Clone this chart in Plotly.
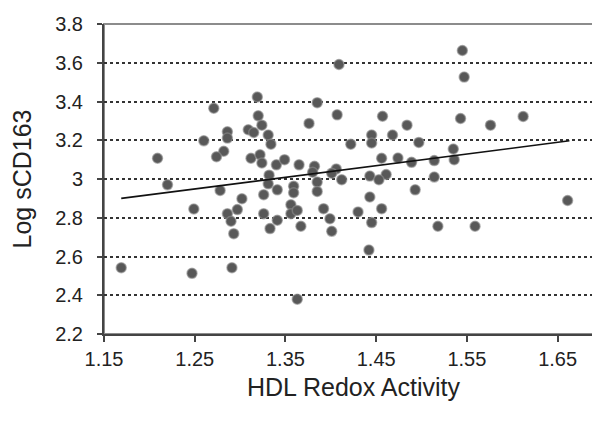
import plotly.graph_objects as go

# HDL Redox Activity (x) vs Log sCD163 (y)
hdl_redox = [
    1.319, 1.271, 1.320, 1.324, 1.309, 1.315, 1.286, 1.286, 1.260, 1.331,
    1.334, 1.282, 1.274, 1.209, 1.312, 1.322, 1.324, 1.332, 1.409, 1.385,
    1.376, 1.407, 1.457, 1.484, 1.445, 1.445, 1.468, 1.422, 1.497, 1.340,
    1.349, 1.365, 1.382, 1.380, 1.406, 1.401, 1.456, 1.474, 1.489, 1.443,
    1.461, 1.545, 1.547, 1.543, 1.576, 1.612, 1.535, 1.536, 1.514, 1.514,
    1.220, 1.278, 1.302, 1.326, 1.249, 1.286, 1.297, 1.290, 1.293, 1.326,
    1.333, 1.169, 1.247, 1.291, 1.412, 1.453, 1.331, 1.341, 1.359, 1.359,
    1.385, 1.385, 1.493, 1.443, 1.341, 1.356, 1.356, 1.363, 1.367, 1.392,
    1.399, 1.401, 1.430, 1.445, 1.456, 1.442, 1.363, 1.518, 1.559, 1.661,
]
log_scd163 = [
    3.423, 3.365, 3.326, 3.278, 3.254, 3.240, 3.244, 3.211, 3.197, 3.227,
    3.180, 3.143, 3.115, 3.107, 3.107, 3.125, 3.083, 3.020, 3.591, 3.394,
    3.287, 3.331, 3.324, 3.278, 3.227, 3.186, 3.227, 3.180, 3.189, 3.073,
    3.100, 3.073, 3.066, 3.035, 3.052, 3.030, 3.107, 3.108, 3.086, 3.015,
    3.023, 3.663, 3.526, 3.312, 3.278, 3.323, 3.155, 3.100, 3.095, 3.010,
    2.970, 2.941, 2.898, 2.919, 2.845, 2.821, 2.842, 2.782, 2.718, 2.821,
    2.744, 2.542, 2.513, 2.542, 2.996, 2.996, 2.975, 2.944, 2.963, 2.929,
    2.984, 2.936, 2.944, 2.907, 2.787, 2.867, 2.821, 2.838, 2.756, 2.847,
    2.795, 2.730, 2.830, 2.775, 2.847, 2.633, 2.380, 2.756, 2.756, 2.889,
]

# Linear trend line endpoints
trend_x = [1.169, 1.663]
trend_y = [2.900, 3.197]

x_ticks = [1.15, 1.25, 1.35, 1.45, 1.55, 1.65]
x_tick_labels = ["1.15", "1.25", "1.35", "1.45", "1.55", "1.65"]
y_ticks = [2.2, 2.4, 2.6, 2.8, 3.0, 3.2, 3.4, 3.6, 3.8]
y_tick_labels = ["2.2", "2.4", "2.6", "2.8", "3", "3.2", "3.4", "3.6", "3.8"]

FONT = "Liberation Sans, Arial, sans-serif"

fig = go.Figure()
fig.add_trace(go.Scatter(
    x=hdl_redox, y=log_scd163, mode="markers",
    marker=dict(size=10, color="#585858",
                line=dict(color="rgba(140,140,140,0.6)", width=1.5)),
    showlegend=False, hoverinfo="skip",
))
fig.add_trace(go.Scatter(
    x=trend_x, y=trend_y, mode="lines",
    line=dict(color="#111111", width=1.6),
    showlegend=False, hoverinfo="skip",
))

fig.add_shape(type="rect", xref="paper", yref="paper", x0=0, y0=0, x1=1, y1=1,
              line=dict(color="#8c8c8c", width=2), layer="below")

fig.update_layout(
    width=600, height=426,
    margin=dict(l=96, r=5, t=14, b=100),
    paper_bgcolor="white", plot_bgcolor="white",
    font=dict(family=FONT, color="#222222"),
    xaxis=dict(
        range=[1.15, 1.70], tickmode="array", tickvals=x_ticks, ticktext=x_tick_labels,
        showgrid=False, zeroline=False,
        showline=True, linecolor="#444444", linewidth=2,
        ticks="outside", ticklen=6, tickcolor="#444444", tickwidth=1.5,
        tickfont=dict(size=20, family=FONT, color="#222222"),
        ticklabelstandoff=0,
        title=dict(text="HDL Redox Activity", font=dict(size=25, family=FONT, color="#222222"),
                   standoff=9),
    ),
    yaxis=dict(
        range=[2.2, 3.8], tickmode="array", tickvals=y_ticks, ticktext=y_tick_labels,
        showgrid=True, gridcolor="#333333", gridwidth=1.5, griddash="dot",
        zeroline=False,
        showline=True, linecolor="#444444", linewidth=2,
        ticks="outside", ticklen=5, tickcolor="#444444", tickwidth=1.5,
        tickfont=dict(size=20, family=FONT, color="#222222"),
        ticklabelstandoff=10,
        title=dict(text="Log sCD163", font=dict(size=25, family=FONT, color="#222222"),
                   standoff=17),
    ),
)

fig.write_html("out.html")
